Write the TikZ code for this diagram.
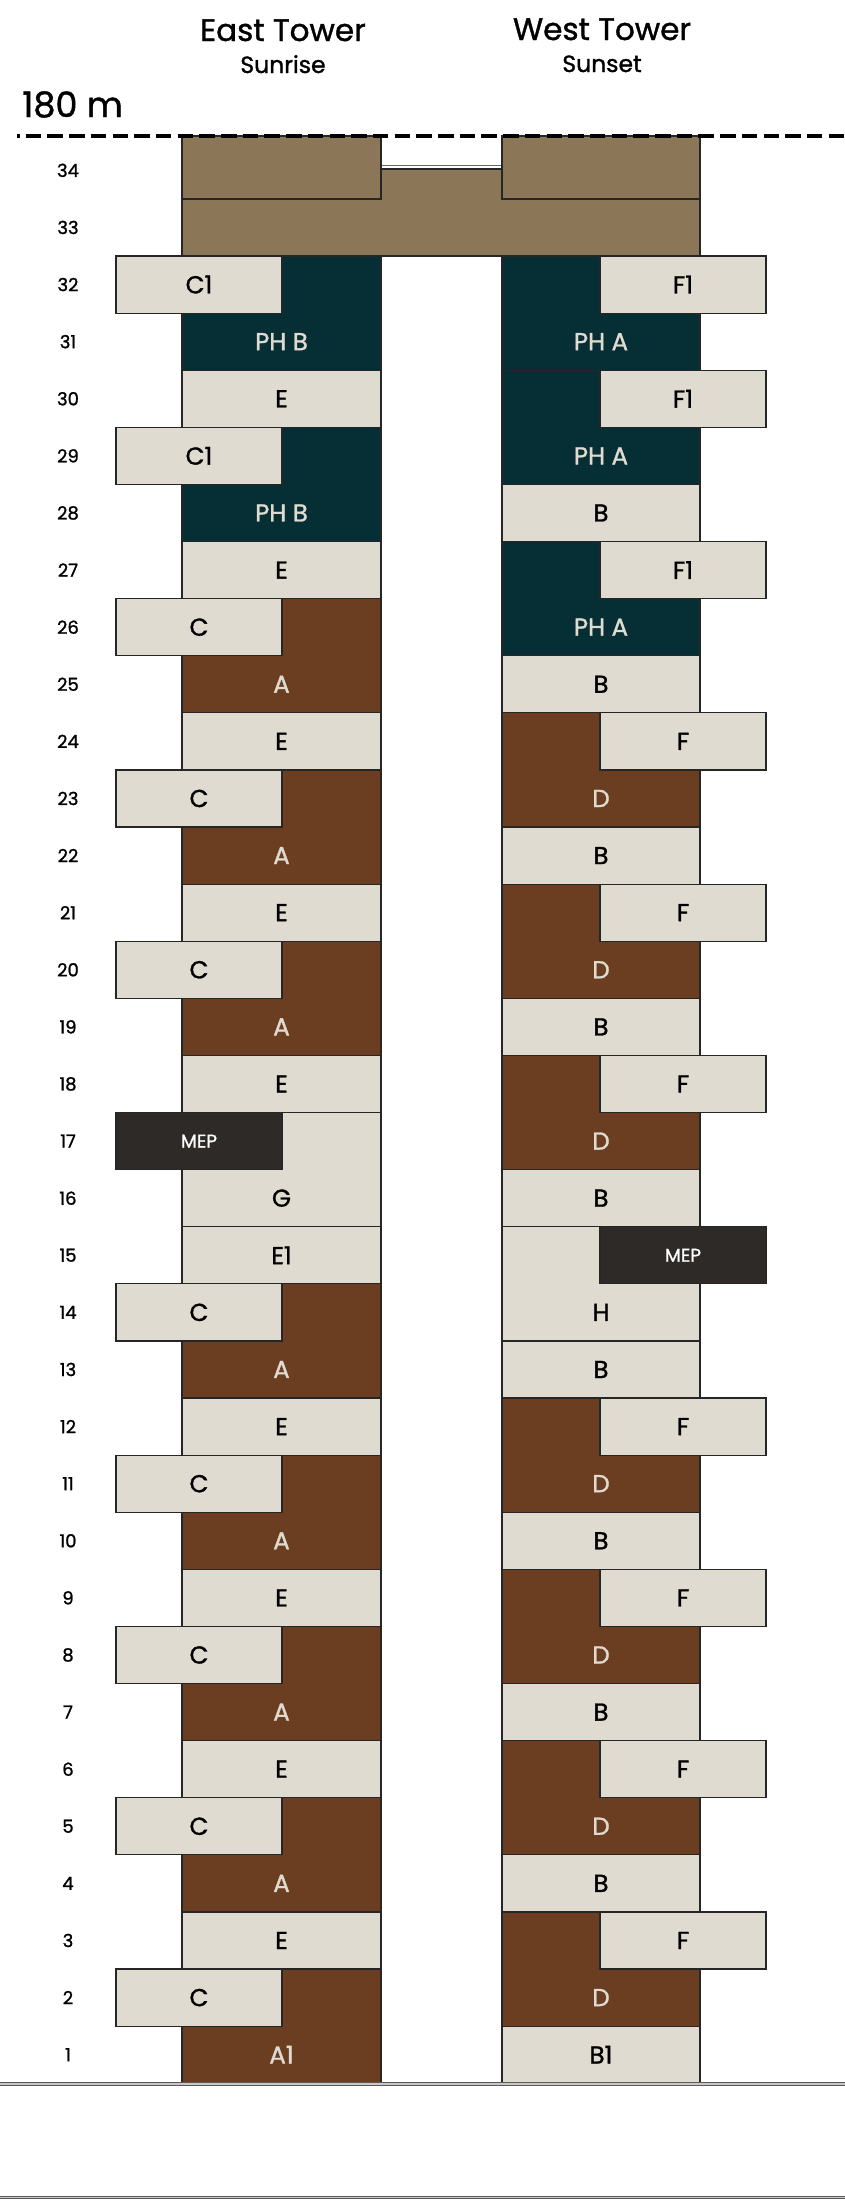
\documentclass[tikz,border=0pt]{standalone}
\usepackage{fontspec}
\setmainfont{Poppins}[FakeBold=1.2]
\usepackage{tikz}
\usetikzlibrary{positioning}
\definecolor{roofbrown}{HTML}{8B7757}
\definecolor{phteal}{HTML}{062E35}
\definecolor{unitbrown}{HTML}{6B3E22}
\definecolor{unitbeige}{HTML}{E0DBD0}
\definecolor{mepgrey}{HTML}{2E2A27}
% floor top / floor middle (px, measured down from the top)
\newcommand\ftop[1]{(256+(32-(#1))*57.1)}
\newcommand\fmid[1]{(284.55+(32-(#1))*57.1)}
\newcommand\unitfont{\fontsize{24.5}{28}\selectfont}
\newcommand\mepfont{\fontsize{18.5}{22}\selectfont}
\newcommand\floorfont{\fontsize{18}{22}\selectfont}
\tikzset{
  % Unit blocks
  unit/.style={
    rectangle, draw=black!85, line width=1.2pt, fill=#1, inner sep=0pt,
    outer sep=0pt, anchor=north west, minimum height=57.1pt, font=\unitfont
  },
  unit/.default=unitbeige,
  eastunit/.style={unit=#1, minimum width=199pt},
  eastunit/.default=unitbeige,
  westunit/.style={unit=#1, minimum width=198pt},
  westunit/.default=unitbeige,
  duplex/.style={minimum height=114.2pt},
  sidebox/.style={unit=#1, minimum width=166pt},
  sidebox/.default=unitbeige,
  mepbox/.style={sidebox=mepgrey, text=white, font=\mepfont},
  % Labels
  lightlbl/.style={font=\unitfont, text=unitbeige},
  darklbl/.style={font=\unitfont, text=black},
  floorlbl/.style={font=\floorfont, text=black},
  ground/.style={line width=1.2pt, draw=black!65, double=black!22, double distance=1.3pt},
}

\begin{document}
\begin{tikzpicture}[x=1pt, y=-1pt]
  \useasboundingbox (0,0) rectangle (845,2204);

  % Headings
  \node[font=\fontsize{31}{36}\selectfont, anchor=base] (east) at (283,41) {East Tower};
  \node[font=\fontsize{23.5}{28}\selectfont, anchor=base] (sunrise) at (283,73) {Sunrise};
  \node[font=\fontsize{31}{36}\selectfont, anchor=base] (west) at (602,40) {West Tower};
  \node[font=\fontsize{23.5}{28}\selectfont, anchor=base] (sunset) at (602,72) {Sunset};
  \node[font=\fontsize{35}{40}\selectfont, anchor=base west, inner sep=0pt] (height) at (22,117) {180 m};

  % Crown (33 + 34)
  \draw[draw=black!85, line width=1.2pt, fill=roofbrown]
    (182,199) -- (381,199) -- (381,169) -- (502,169) -- (502,199) -- (700,199)
    -- (700,256) -- (182,256) -- cycle;
  \draw[black!60, line width=0.9pt] (381,165.3) -- (502,165.3);
  \node[eastunit=roofbrown, minimum height=63pt] (eroof) at (182,136) {};
  \node[westunit=roofbrown, minimum height=63pt] (wroof) at (502,136) {};

  % East Tower
  \foreach \f in {32,29}{
    \node[eastunit=phteal, duplex] (eph\f) at (182,{\ftop{\f}}) {};
    \node[sidebox] (ec\f) at (116,{\ftop{\f}}) {C1};
  }
  \foreach \f in {31,28} \node[lightlbl] (ephl\f) at (281.5,{\fmid{\f}}) {PH B};
  \foreach \f in {26,23,20,14,11,8,5,2}{
    \node[eastunit=unitbrown, duplex] (ea\f) at (182,{\ftop{\f}}) {};
    \node[sidebox] (ec\f) at (116,{\ftop{\f}}) {C};
  }
  \foreach \f in {25,22,19,13,10,7,4} \node[lightlbl] (eal\f) at (281.5,{\fmid{\f}}) {A};
  \node[lightlbl] (eal1) at (281.5,{\fmid{1}}) {A1};
  \node[eastunit, duplex] (eg17) at (182,{\ftop{17}}) {};
  \node[mepbox] (emep) at (116,{\ftop{17}}) {MEP};
  \node[darklbl] (egl16) at (281.5,{\fmid{16}}) {G};
  \foreach \f in {30,27,24,21,18,12,9,6,3} \node[eastunit] (ee\f) at (182,{\ftop{\f}}) {E};
  \node[eastunit] (ee15) at (182,{\ftop{15}}) {E1};

  % West Tower
  \foreach \f in {32,30,27}{
    \node[westunit=phteal, duplex] (wph\f) at (502,{\ftop{\f}}) {};
    \node[sidebox] (wf\f) at (600,{\ftop{\f}}) {F1};
  }
  \foreach \f in {31,29,26} \node[lightlbl] (wphl\f) at (601,{\fmid{\f}}) {PH A};
  \foreach \f in {24,21,18,12,9,6,3}{
    \node[westunit=unitbrown, duplex] (wd\f) at (502,{\ftop{\f}}) {};
    \node[sidebox] (wf\f) at (600,{\ftop{\f}}) {F};
  }
  \foreach \f in {23,20,17,11,8,5,2} \node[lightlbl] (wdl\f) at (601,{\fmid{\f}}) {D};
  \node[westunit, duplex] (wh15) at (502,{\ftop{15}}) {};
  \node[mepbox] (wmep) at (600,{\ftop{15}}) {MEP};
  \node[darklbl] (whl14) at (601,{\fmid{14}}) {H};
  \foreach \f in {28,25,22,19,16,13,10,7,4} \node[westunit] (wb\f) at (502,{\ftop{\f}}) {B};
  \node[westunit] (wb1) at (502,{\ftop{1}}) {B1};

  % Floor numbers
  \foreach \n in {1,...,34} \node[floorlbl] (fl\n) at (68,{\fmid{\n}}) {\n};

  % 180 m line and ground
  \draw[line width=4pt, dash pattern=on 15.5pt off 6.2pt, dash phase=13pt] (17,136) -- (845,136);
  \draw[ground] (0,2084) -- (845,2084);
  \draw[ground] (0,2197.5) -- (845,2197.5);
\end{tikzpicture}
\end{document}
